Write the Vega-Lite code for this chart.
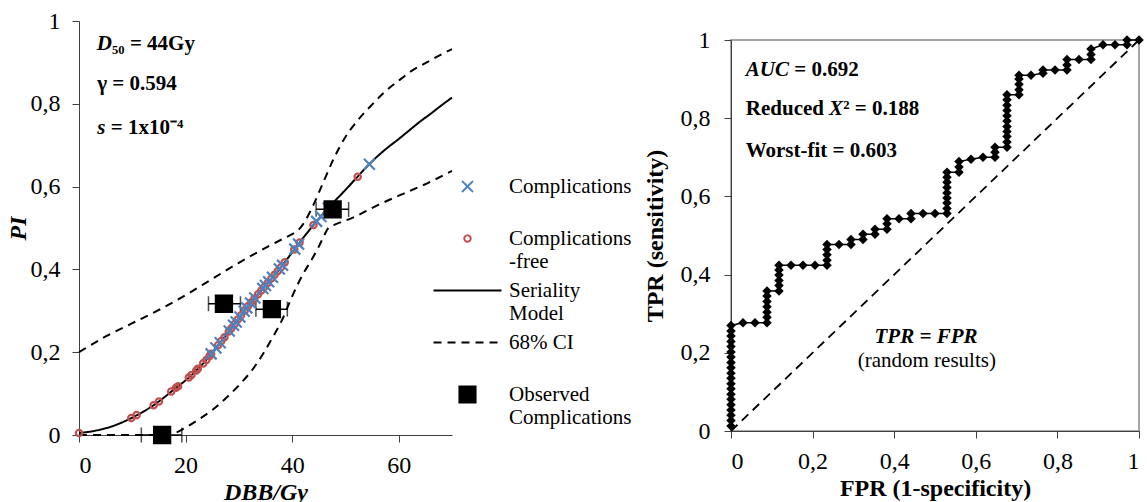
{
  "$schema": "https://vega.github.io/schema/vega-lite/v6.json",
  "padding": {"left": 6, "top": 9, "right": 0, "bottom": 0},
  "spacing": 186,
  "config": {
    "font": "Liberation Serif",
    "view": {"stroke": null},
    "axis": {"grid": false, "labelFont": "Liberation Serif", "titleFont": "Liberation Serif", "labelColor": "black", "titleColor": "black", "domainColor": "#404040", "tickColor": "#404040", "labelFontSize": 24, "titleFontSize": 24, "titleFontWeight": "bold", "tickSize": 7, "labelPadding": 12},
    "text": {"font": "Liberation Serif", "fontSize": 21, "baseline": "middle"}
  },
  "datasets": {
    "curves": [
      {"d": 0, "p": 0.005, "series": "Seriality Model", "curve": "model"},
      {"d": 2, "p": 0.008, "series": "Seriality Model", "curve": "model"},
      {"d": 4, "p": 0.013, "series": "Seriality Model", "curve": "model"},
      {"d": 6, "p": 0.020, "series": "Seriality Model", "curve": "model"},
      {"d": 8, "p": 0.030, "series": "Seriality Model", "curve": "model"},
      {"d": 10, "p": 0.042, "series": "Seriality Model", "curve": "model"},
      {"d": 12, "p": 0.056, "series": "Seriality Model", "curve": "model"},
      {"d": 14, "p": 0.072, "series": "Seriality Model", "curve": "model"},
      {"d": 16, "p": 0.091, "series": "Seriality Model", "curve": "model"},
      {"d": 18, "p": 0.112, "series": "Seriality Model", "curve": "model"},
      {"d": 20, "p": 0.132, "series": "Seriality Model", "curve": "model"},
      {"d": 22, "p": 0.156, "series": "Seriality Model", "curve": "model"},
      {"d": 24, "p": 0.183, "series": "Seriality Model", "curve": "model"},
      {"d": 26, "p": 0.215, "series": "Seriality Model", "curve": "model"},
      {"d": 28, "p": 0.248, "series": "Seriality Model", "curve": "model"},
      {"d": 30, "p": 0.282, "series": "Seriality Model", "curve": "model"},
      {"d": 32, "p": 0.316, "series": "Seriality Model", "curve": "model"},
      {"d": 34, "p": 0.346, "series": "Seriality Model", "curve": "model"},
      {"d": 36, "p": 0.376, "series": "Seriality Model", "curve": "model"},
      {"d": 38, "p": 0.407, "series": "Seriality Model", "curve": "model"},
      {"d": 40, "p": 0.441, "series": "Seriality Model", "curve": "model"},
      {"d": 42, "p": 0.475, "series": "Seriality Model", "curve": "model"},
      {"d": 44, "p": 0.507, "series": "Seriality Model", "curve": "model"},
      {"d": 46, "p": 0.537, "series": "Seriality Model", "curve": "model"},
      {"d": 48, "p": 0.565, "series": "Seriality Model", "curve": "model"},
      {"d": 50, "p": 0.592, "series": "Seriality Model", "curve": "model"},
      {"d": 52, "p": 0.620, "series": "Seriality Model", "curve": "model"},
      {"d": 54, "p": 0.648, "series": "Seriality Model", "curve": "model"},
      {"d": 56, "p": 0.673, "series": "Seriality Model", "curve": "model"},
      {"d": 58, "p": 0.695, "series": "Seriality Model", "curve": "model"},
      {"d": 60, "p": 0.715, "series": "Seriality Model", "curve": "model"},
      {"d": 62, "p": 0.736, "series": "Seriality Model", "curve": "model"},
      {"d": 64, "p": 0.757, "series": "Seriality Model", "curve": "model"},
      {"d": 66, "p": 0.776, "series": "Seriality Model", "curve": "model"},
      {"d": 68, "p": 0.796, "series": "Seriality Model", "curve": "model"},
      {"d": 70, "p": 0.815, "series": "Seriality Model", "curve": "model"},
      {"d": 0, "p": 0.200, "series": "68% CI", "curve": "upper"},
      {"d": 5, "p": 0.238, "series": "68% CI", "curve": "upper"},
      {"d": 10, "p": 0.270, "series": "68% CI", "curve": "upper"},
      {"d": 15, "p": 0.302, "series": "68% CI", "curve": "upper"},
      {"d": 20, "p": 0.338, "series": "68% CI", "curve": "upper"},
      {"d": 25, "p": 0.377, "series": "68% CI", "curve": "upper"},
      {"d": 30, "p": 0.416, "series": "68% CI", "curve": "upper"},
      {"d": 35, "p": 0.452, "series": "68% CI", "curve": "upper"},
      {"d": 38, "p": 0.472, "series": "68% CI", "curve": "upper"},
      {"d": 40, "p": 0.485, "series": "68% CI", "curve": "upper"},
      {"d": 41, "p": 0.493, "series": "68% CI", "curve": "upper"},
      {"d": 42, "p": 0.508, "series": "68% CI", "curve": "upper"},
      {"d": 43, "p": 0.530, "series": "68% CI", "curve": "upper"},
      {"d": 44, "p": 0.556, "series": "68% CI", "curve": "upper"},
      {"d": 45, "p": 0.585, "series": "68% CI", "curve": "upper"},
      {"d": 46, "p": 0.615, "series": "68% CI", "curve": "upper"},
      {"d": 47.6, "p": 0.662, "series": "68% CI", "curve": "upper"},
      {"d": 50, "p": 0.720, "series": "68% CI", "curve": "upper"},
      {"d": 52.5, "p": 0.763, "series": "68% CI", "curve": "upper"},
      {"d": 55, "p": 0.798, "series": "68% CI", "curve": "upper"},
      {"d": 57.5, "p": 0.830, "series": "68% CI", "curve": "upper"},
      {"d": 60, "p": 0.856, "series": "68% CI", "curve": "upper"},
      {"d": 62.5, "p": 0.880, "series": "68% CI", "curve": "upper"},
      {"d": 65, "p": 0.898, "series": "68% CI", "curve": "upper"},
      {"d": 67.5, "p": 0.916, "series": "68% CI", "curve": "upper"},
      {"d": 70, "p": 0.932, "series": "68% CI", "curve": "upper"},
      {"d": 0, "p": 0.000, "series": "68% CI", "curve": "lower"},
      {"d": 5, "p": 0.000, "series": "68% CI", "curve": "lower"},
      {"d": 10, "p": 0.000, "series": "68% CI", "curve": "lower"},
      {"d": 15, "p": 0.000, "series": "68% CI", "curve": "lower"},
      {"d": 17.5, "p": 0.003, "series": "68% CI", "curve": "lower"},
      {"d": 20, "p": 0.018, "series": "68% CI", "curve": "lower"},
      {"d": 22.5, "p": 0.038, "series": "68% CI", "curve": "lower"},
      {"d": 25, "p": 0.060, "series": "68% CI", "curve": "lower"},
      {"d": 27.5, "p": 0.088, "series": "68% CI", "curve": "lower"},
      {"d": 30, "p": 0.120, "series": "68% CI", "curve": "lower"},
      {"d": 32.5, "p": 0.157, "series": "68% CI", "curve": "lower"},
      {"d": 34.5, "p": 0.195, "series": "68% CI", "curve": "lower"},
      {"d": 36, "p": 0.228, "series": "68% CI", "curve": "lower"},
      {"d": 38, "p": 0.275, "series": "68% CI", "curve": "lower"},
      {"d": 40, "p": 0.335, "series": "68% CI", "curve": "lower"},
      {"d": 42, "p": 0.388, "series": "68% CI", "curve": "lower"},
      {"d": 43.5, "p": 0.420, "series": "68% CI", "curve": "lower"},
      {"d": 45, "p": 0.455, "series": "68% CI", "curve": "lower"},
      {"d": 46, "p": 0.482, "series": "68% CI", "curve": "lower"},
      {"d": 46.8, "p": 0.500, "series": "68% CI", "curve": "lower"},
      {"d": 48, "p": 0.508, "series": "68% CI", "curve": "lower"},
      {"d": 51.4, "p": 0.525, "series": "68% CI", "curve": "lower"},
      {"d": 55.7, "p": 0.553, "series": "68% CI", "curve": "lower"},
      {"d": 60, "p": 0.578, "series": "68% CI", "curve": "lower"},
      {"d": 62, "p": 0.589, "series": "68% CI", "curve": "lower"},
      {"d": 66, "p": 0.612, "series": "68% CI", "curve": "lower"},
      {"d": 70, "p": 0.638, "series": "68% CI", "curve": "lower"}
    ],
    "points": [
      {"d": 0, "p": 0.005, "series": "Complications-free"},
      {"d": 9.8, "p": 0.041, "series": "Complications-free"},
      {"d": 10.8, "p": 0.048, "series": "Complications-free"},
      {"d": 14.0, "p": 0.072, "series": "Complications-free"},
      {"d": 15.0, "p": 0.081, "series": "Complications-free"},
      {"d": 17.3, "p": 0.105, "series": "Complications-free"},
      {"d": 18.2, "p": 0.114, "series": "Complications-free"},
      {"d": 18.6, "p": 0.118, "series": "Complications-free"},
      {"d": 20.6, "p": 0.139, "series": "Complications-free"},
      {"d": 21.1, "p": 0.145, "series": "Complications-free"},
      {"d": 22.0, "p": 0.156, "series": "Complications-free"},
      {"d": 22.3, "p": 0.160, "series": "Complications-free"},
      {"d": 23.3, "p": 0.173, "series": "Complications-free"},
      {"d": 23.9, "p": 0.181, "series": "Complications-free"},
      {"d": 24.5, "p": 0.191, "series": "Complications-free"},
      {"d": 24.8, "p": 0.196, "series": "Complications-free"},
      {"d": 26.1, "p": 0.217, "series": "Complications-free"},
      {"d": 26.7, "p": 0.227, "series": "Complications-free"},
      {"d": 27.3, "p": 0.236, "series": "Complications-free"},
      {"d": 28.1, "p": 0.250, "series": "Complications-free"},
      {"d": 28.6, "p": 0.258, "series": "Complications-free"},
      {"d": 29.2, "p": 0.268, "series": "Complications-free"},
      {"d": 29.8, "p": 0.279, "series": "Complications-free"},
      {"d": 30.4, "p": 0.289, "series": "Complications-free"},
      {"d": 31.1, "p": 0.301, "series": "Complications-free"},
      {"d": 31.7, "p": 0.311, "series": "Complications-free"},
      {"d": 32.3, "p": 0.320, "series": "Complications-free"},
      {"d": 32.9, "p": 0.329, "series": "Complications-free"},
      {"d": 33.6, "p": 0.340, "series": "Complications-free"},
      {"d": 34.2, "p": 0.349, "series": "Complications-free"},
      {"d": 34.8, "p": 0.358, "series": "Complications-free"},
      {"d": 35.4, "p": 0.367, "series": "Complications-free"},
      {"d": 36.1, "p": 0.378, "series": "Complications-free"},
      {"d": 36.7, "p": 0.387, "series": "Complications-free"},
      {"d": 37.3, "p": 0.396, "series": "Complications-free"},
      {"d": 37.9, "p": 0.405, "series": "Complications-free"},
      {"d": 38.6, "p": 0.417, "series": "Complications-free"},
      {"d": 40.4, "p": 0.448, "series": "Complications-free"},
      {"d": 41.4, "p": 0.465, "series": "Complications-free"},
      {"d": 44.0, "p": 0.507, "series": "Complications-free"},
      {"d": 52.3, "p": 0.624, "series": "Complications-free"},
      {"d": 24.8, "p": 0.196, "series": "Complications"},
      {"d": 25.7, "p": 0.210, "series": "Complications"},
      {"d": 26.5, "p": 0.223, "series": "Complications"},
      {"d": 28.2, "p": 0.251, "series": "Complications"},
      {"d": 29.0, "p": 0.265, "series": "Complications"},
      {"d": 29.5, "p": 0.273, "series": "Complications"},
      {"d": 30.2, "p": 0.285, "series": "Complications"},
      {"d": 31.0, "p": 0.299, "series": "Complications"},
      {"d": 31.5, "p": 0.307, "series": "Complications"},
      {"d": 32.2, "p": 0.319, "series": "Complications"},
      {"d": 33.0, "p": 0.331, "series": "Complications"},
      {"d": 34.5, "p": 0.354, "series": "Complications"},
      {"d": 35.0, "p": 0.361, "series": "Complications"},
      {"d": 35.6, "p": 0.370, "series": "Complications"},
      {"d": 36.3, "p": 0.381, "series": "Complications"},
      {"d": 37.6, "p": 0.401, "series": "Complications"},
      {"d": 38.2, "p": 0.410, "series": "Complications"},
      {"d": 40.5, "p": 0.449, "series": "Complications"},
      {"d": 41.2, "p": 0.461, "series": "Complications"},
      {"d": 44.6, "p": 0.516, "series": "Complications"},
      {"d": 45.4, "p": 0.528, "series": "Complications"},
      {"d": 46.8, "p": 0.548, "series": "Complications"},
      {"d": 54.5, "p": 0.654, "series": "Complications"},
      {"d": 15.6, "p": 0.0, "lo": 11.7, "hi": 19.3, "series": "Observed Complications"},
      {"d": 27.2, "p": 0.317, "lo": 24.3, "hi": 30.3, "series": "Observed Complications"},
      {"d": 36.2, "p": 0.304, "lo": 33.2, "hi": 39.1, "series": "Observed Complications"},
      {"d": 47.6, "p": 0.545, "lo": 44.5, "hi": 50.6, "series": "Observed Complications"}
    ],
    "roc": [
      {"fpr": 0, "tpr": 0.013}, {"fpr": 0, "tpr": 0.027}, {"fpr": 0, "tpr": 0.040}, {"fpr": 0, "tpr": 0.054},
      {"fpr": 0, "tpr": 0.067}, {"fpr": 0, "tpr": 0.081}, {"fpr": 0, "tpr": 0.094}, {"fpr": 0, "tpr": 0.108},
      {"fpr": 0, "tpr": 0.121}, {"fpr": 0, "tpr": 0.135}, {"fpr": 0, "tpr": 0.148}, {"fpr": 0, "tpr": 0.162},
      {"fpr": 0, "tpr": 0.175}, {"fpr": 0, "tpr": 0.189}, {"fpr": 0, "tpr": 0.202}, {"fpr": 0, "tpr": 0.216},
      {"fpr": 0, "tpr": 0.229}, {"fpr": 0, "tpr": 0.243}, {"fpr": 0, "tpr": 0.256}, {"fpr": 0, "tpr": 0.270},
      {"fpr": 0.0294, "tpr": 0.277},
      {"fpr": 0.0588, "tpr": 0.277},
      {"fpr": 0.0882, "tpr": 0.277}, {"fpr": 0.0882, "tpr": 0.291}, {"fpr": 0.0882, "tpr": 0.304}, {"fpr": 0.0882, "tpr": 0.318}, {"fpr": 0.0882, "tpr": 0.331}, {"fpr": 0.0882, "tpr": 0.345}, {"fpr": 0.0882, "tpr": 0.358},
      {"fpr": 0.1176, "tpr": 0.358}, {"fpr": 0.1176, "tpr": 0.372}, {"fpr": 0.1176, "tpr": 0.385}, {"fpr": 0.1176, "tpr": 0.399}, {"fpr": 0.1176, "tpr": 0.412}, {"fpr": 0.1176, "tpr": 0.424},
      {"fpr": 0.1471, "tpr": 0.424},
      {"fpr": 0.1765, "tpr": 0.424},
      {"fpr": 0.2059, "tpr": 0.424},
      {"fpr": 0.2353, "tpr": 0.424}, {"fpr": 0.2353, "tpr": 0.437}, {"fpr": 0.2353, "tpr": 0.451}, {"fpr": 0.2353, "tpr": 0.464}, {"fpr": 0.2353, "tpr": 0.477},
      {"fpr": 0.2647, "tpr": 0.477},
      {"fpr": 0.2941, "tpr": 0.477}, {"fpr": 0.2941, "tpr": 0.490},
      {"fpr": 0.3235, "tpr": 0.490}, {"fpr": 0.3235, "tpr": 0.503},
      {"fpr": 0.3529, "tpr": 0.503}, {"fpr": 0.3529, "tpr": 0.516},
      {"fpr": 0.3824, "tpr": 0.516}, {"fpr": 0.3824, "tpr": 0.530}, {"fpr": 0.3824, "tpr": 0.543},
      {"fpr": 0.4118, "tpr": 0.543},
      {"fpr": 0.4412, "tpr": 0.543}, {"fpr": 0.4412, "tpr": 0.556},
      {"fpr": 0.4706, "tpr": 0.556},
      {"fpr": 0.5, "tpr": 0.556},
      {"fpr": 0.5294, "tpr": 0.556}, {"fpr": 0.5294, "tpr": 0.569}, {"fpr": 0.5294, "tpr": 0.583}, {"fpr": 0.5294, "tpr": 0.596}, {"fpr": 0.5294, "tpr": 0.609}, {"fpr": 0.5294, "tpr": 0.623}, {"fpr": 0.5294, "tpr": 0.636}, {"fpr": 0.5294, "tpr": 0.649}, {"fpr": 0.5294, "tpr": 0.662},
      {"fpr": 0.5588, "tpr": 0.662}, {"fpr": 0.5588, "tpr": 0.675}, {"fpr": 0.5588, "tpr": 0.689},
      {"fpr": 0.5882, "tpr": 0.695},
      {"fpr": 0.6176, "tpr": 0.700},
      {"fpr": 0.6471, "tpr": 0.700}, {"fpr": 0.6471, "tpr": 0.713}, {"fpr": 0.6471, "tpr": 0.726},
      {"fpr": 0.6765, "tpr": 0.726}, {"fpr": 0.6765, "tpr": 0.739}, {"fpr": 0.6765, "tpr": 0.753}, {"fpr": 0.6765, "tpr": 0.766}, {"fpr": 0.6765, "tpr": 0.779}, {"fpr": 0.6765, "tpr": 0.793}, {"fpr": 0.6765, "tpr": 0.806}, {"fpr": 0.6765, "tpr": 0.820}, {"fpr": 0.6765, "tpr": 0.833}, {"fpr": 0.6765, "tpr": 0.847}, {"fpr": 0.6765, "tpr": 0.860},
      {"fpr": 0.7059, "tpr": 0.860}, {"fpr": 0.7059, "tpr": 0.873}, {"fpr": 0.7059, "tpr": 0.887}, {"fpr": 0.7059, "tpr": 0.900}, {"fpr": 0.7059, "tpr": 0.910},
      {"fpr": 0.7353, "tpr": 0.910},
      {"fpr": 0.7647, "tpr": 0.915}, {"fpr": 0.7647, "tpr": 0.923},
      {"fpr": 0.7941, "tpr": 0.923},
      {"fpr": 0.8235, "tpr": 0.923}, {"fpr": 0.8235, "tpr": 0.936}, {"fpr": 0.8235, "tpr": 0.950},
      {"fpr": 0.8529, "tpr": 0.950},
      {"fpr": 0.8824, "tpr": 0.950}, {"fpr": 0.8824, "tpr": 0.963}, {"fpr": 0.8824, "tpr": 0.977},
      {"fpr": 0.9118, "tpr": 0.988},
      {"fpr": 0.9412, "tpr": 0.988},
      {"fpr": 0.9706, "tpr": 0.988}, {"fpr": 0.9706, "tpr": 1.0},
      {"fpr": 1.0, "tpr": 1.0}
    ]
  },
  "hconcat": [
    {
      "width": 373,
      "height": 414,
      "encoding": {
        "x": {"type": "quantitative", "scale": {"domain": [0, 70], "nice": false}, "axis": {"values": [0, 20, 40, 60], "title": "DBB/Gy", "titleFontStyle": "italic", "labelPadding": 11, "titlePadding": 3}},
        "y": {"type": "quantitative", "scale": {"domain": [0, 1], "nice": false}, "axis": {"values": [0, 0.2, 0.4, 0.6, 0.8, 1], "labelExpr": "replace(toString(datum.value), '.', ',')", "title": "PI", "titleFontStyle": "italic", "labelPadding": 12, "titlePadding": 0}}
      },
      "layer": [
        {
          "data": {"name": "curves"},
          "mark": {"type": "line", "strokeWidth": 2, "interpolate": "monotone"},
          "encoding": {
            "x": {"field": "d", "type": "quantitative"},
            "y": {"field": "p", "type": "quantitative"},
            "detail": {"field": "curve"},
            "stroke": {"field": "series", "type": "nominal", "scale": {"domain": ["Complications", "Complications-free", "Seriality Model", "68% CI", "Observed Complications"], "range": ["#4F81BD", "#C0504D", "black", "black", "black"]},
              "legend": {"orient": "none", "legendX": 378, "legendY": 155, "title": null, "padding": 0, "labelFont": "Liberation Serif", "labelFontSize": 21, "labelColor": "black", "labelLimit": 400, "labelOffset": 31, "symbolStrokeWidth": 2, "gridAlign": "all", "rowPadding": 6,
                "labelExpr": "datum.label == 'Complications-free' ? ['Complications', '-free'] : datum.label == 'Seriality Model' ? ['Seriality', 'Model'] : datum.label == 'Observed Complications' ? ['Observed', 'Complications'] : datum.label"}},
            "strokeDash": {"field": "series", "type": "nominal", "scale": {"domain": ["Complications", "Complications-free", "Seriality Model", "68% CI", "Observed Complications"], "range": [[1, 0], [1, 0], [1, 0], [8, 6], [1, 0]]}}
          }
        },
        {
          "data": {"name": "points"},
          "transform": [{"filter": "datum.series == 'Observed Complications'"}],
          "mark": {"type": "errorbar", "ticks": true, "size": 15, "thickness": 1.5, "color": "black"},
          "encoding": {
            "x": {"field": "lo", "type": "quantitative"},
            "x2": {"field": "hi"},
            "y": {"field": "p", "type": "quantitative"}
          }
        },
        {
          "data": {"name": "points"},
          "mark": {"type": "point", "strokeWidth": 2.2, "opacity": 1},
          "encoding": {
            "x": {"field": "d", "type": "quantitative"},
            "y": {"field": "p", "type": "quantitative"},
            "stroke": {"field": "series", "type": "nominal"},
            "fill": {"field": "series", "type": "nominal", "scale": {"domain": ["Complications", "Complications-free", "Seriality Model", "68% CI", "Observed Complications"], "range": ["transparent", "transparent", "transparent", "transparent", "black"]}},
            "shape": {"field": "series", "type": "nominal", "scale": {"domain": ["Complications", "Complications-free", "Seriality Model", "68% CI", "Observed Complications"], "range": ["M-1,-1L1,1M-1,1L1,-1", "circle", "M-4,0L4,0", "M-4,0L4,0", "square"]}},
            "size": {"field": "series", "type": "nominal", "scale": {"type": "ordinal", "domain": ["Complications", "Complications-free", "Seriality Model", "68% CI", "Observed Complications"], "range": [121, 40, 289, 289, 260]}}
          }
        },
        {
          "data": {"values": [{"x": 6.2, "y": 0.944, "t": "D"}, {"x": 4.95, "y": 0.742, "t": "s"}]},
          "mark": {"type": "text", "align": "right", "fontWeight": "bold", "fontStyle": "italic"},
          "encoding": {"x": {"field": "x", "type": "quantitative"}, "y": {"field": "y", "type": "quantitative"}, "text": {"field": "t"}}
        },
        {
          "data": {"values": [{"x": 6.2, "y": 0.944, "t": "₅₀ = 44Gy"}, {"x": 3.43, "y": 0.847, "t": "γ = 0.594"}, {"x": 5.95, "y": 0.742, "t": "= 1x10⁻⁴"}]},
          "mark": {"type": "text", "align": "left", "fontWeight": "bold"},
          "encoding": {"x": {"field": "x", "type": "quantitative"}, "y": {"field": "y", "type": "quantitative"}, "text": {"field": "t"}}
        }
      ]
    },
    {
      "spacing": 5,
      "vconcat": [
        {
          "width": 408,
          "height": 1,
          "data": {"values": []},
          "mark": {"type": "rule"},
          "encoding": {}
        },
        {
          "width": 408,
          "height": 391,
          "view": {"stroke": "#a6a6a6", "strokeWidth": 2},
          "encoding": {
            "x": {"type": "quantitative", "scale": {"domain": [0, 1], "nice": false}, "axis": {"values": [0, 0.2, 0.4, 0.6, 0.8, 1], "labelExpr": "replace(toString(datum.value), '.', ',')", "title": "FPR (1-specificity)", "labelPadding": 11, "titlePadding": 3}},
            "y": {"type": "quantitative", "scale": {"domain": [0, 1], "nice": false}, "axis": {"values": [0, 0.2, 0.4, 0.6, 0.8, 1], "labelExpr": "replace(toString(datum.value), '.', ',')", "title": "TPR (sensitivity)", "labelPadding": 14, "titlePadding": 13}}
          },
          "layer": [
            {
              "data": {"values": [{"fpr": 0, "tpr": 0}, {"fpr": 1, "tpr": 1}]},
              "mark": {"type": "line", "color": "black", "strokeWidth": 1.8, "strokeDash": [9, 6]},
              "encoding": {"x": {"field": "fpr", "type": "quantitative"}, "y": {"field": "tpr", "type": "quantitative"}}
            },
            {
              "data": {"name": "roc"},
              "mark": {"type": "line", "color": "black", "strokeWidth": 1.5},
              "encoding": {"x": {"field": "fpr", "type": "quantitative"}, "y": {"field": "tpr", "type": "quantitative"}, "order": [{"field": "fpr", "type": "quantitative"}, {"field": "tpr", "type": "quantitative"}]}
            },
            {
              "data": {"name": "roc"},
              "mark": {"type": "point", "shape": "diamond", "filled": true, "color": "black", "size": 90, "opacity": 1},
              "encoding": {"x": {"field": "fpr", "type": "quantitative"}, "y": {"field": "tpr", "type": "quantitative"}}
            },
            {
              "data": {"values": [{"x": 0.142, "y": 0.923, "t": "AUC"}]},
              "mark": {"type": "text", "align": "right", "fontWeight": "bold", "fontStyle": "italic"},
              "encoding": {"x": {"field": "x", "type": "quantitative"}, "y": {"field": "y", "type": "quantitative"}, "text": {"field": "t"}}
            },
            {
              "data": {"values": [{"x": 0.155, "y": 0.923, "t": "= 0.692"}, {"x": 0.275, "y": 0.823, "t": "² = 0.188"}, {"x": 0.036, "y": 0.717, "t": "Worst-fit = 0.603"}]},
              "mark": {"type": "text", "align": "left", "fontWeight": "bold"},
              "encoding": {"x": {"field": "x", "type": "quantitative"}, "y": {"field": "y", "type": "quantitative"}, "text": {"field": "t"}}
            },
            {
              "data": {"values": [{"x": 0.228, "y": 0.823, "t": "Reduced"}]},
              "mark": {"type": "text", "align": "right", "fontWeight": "bold"},
              "encoding": {"x": {"field": "x", "type": "quantitative"}, "y": {"field": "y", "type": "quantitative"}, "text": {"field": "t"}}
            },
            {
              "data": {"values": [{"x": 0.240, "y": 0.823, "t": "X"}]},
              "mark": {"type": "text", "align": "left", "fontWeight": "bold", "fontStyle": "italic"},
              "encoding": {"x": {"field": "x", "type": "quantitative"}, "y": {"field": "y", "type": "quantitative"}, "text": {"field": "t"}}
            },
            {
              "data": {"values": [{"x": 0.478, "y": 0.24, "t": "TPR = FPR"}]},
              "mark": {"type": "text", "align": "center", "fontWeight": "bold", "fontStyle": "italic"},
              "encoding": {"x": {"field": "x", "type": "quantitative"}, "y": {"field": "y", "type": "quantitative"}, "text": {"field": "t"}}
            },
            {
              "data": {"values": [{"x": 0.48, "y": 0.179, "t": "(random results)"}]},
              "mark": {"type": "text", "align": "center"},
              "encoding": {"x": {"field": "x", "type": "quantitative"}, "y": {"field": "y", "type": "quantitative"}, "text": {"field": "t"}}
            }
          ]
        }
      ]
    }
  ]
}
